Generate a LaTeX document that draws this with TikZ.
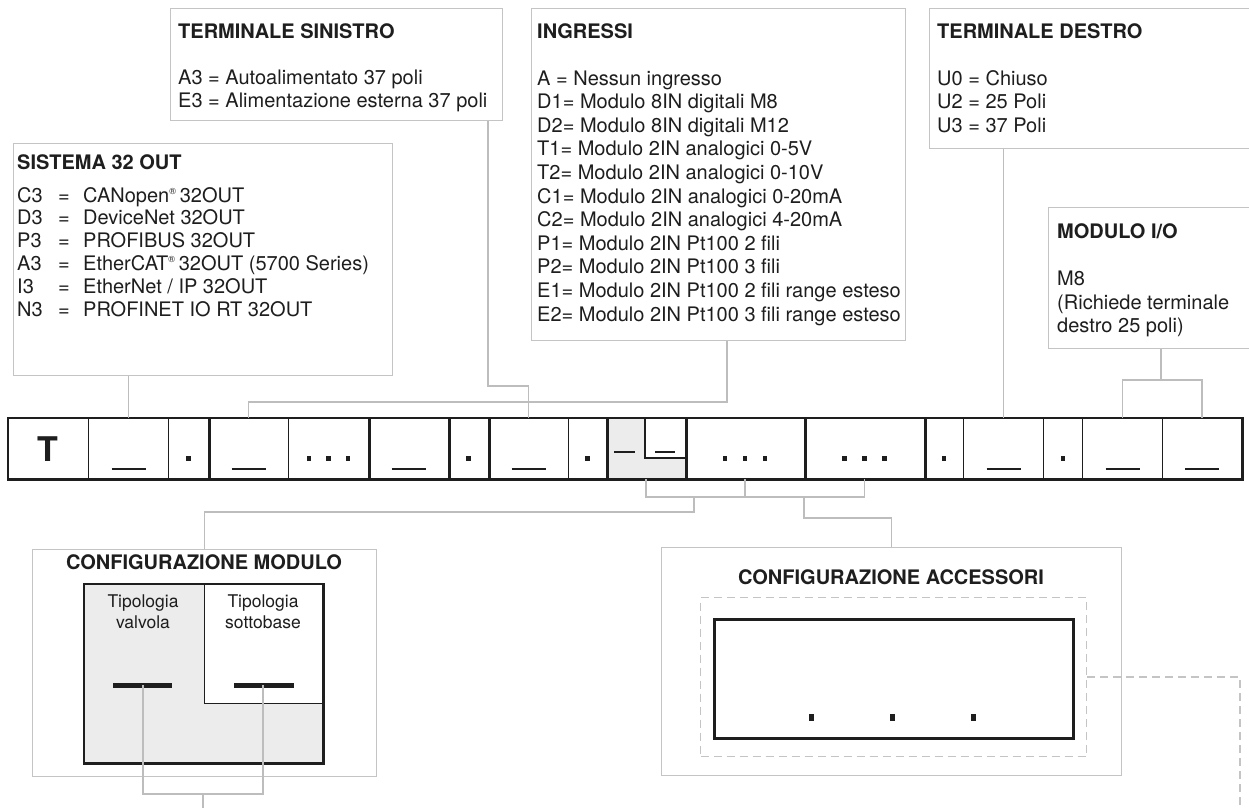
\documentclass[tikz,border=0pt]{standalone}
\usepackage{fontspec}
\setmainfont{TeX Gyre Heros}
\definecolor{boxgray}{HTML}{C4C4C4}
\definecolor{linegray}{HTML}{BDBDBD}
\definecolor{ink}{HTML}{1E1E1E}
\definecolor{cellgray}{HTML}{ECECEC}
\newcommand\bodyf{\fontsize{20}{23.5}\selectfont}
\newcommand\smallf{\fontsize{17.5}{21}\selectfont}
\newcommand\regmark{\textsuperscript{\fontsize{9}{9}\selectfont\textregistered}}
\tikzset{
  box/.style={draw=boxgray, line width=1.3pt, inner sep=0pt, anchor=north west, fill=white},
  conn/.style={draw=linegray, line width=1.3pt},
  txt/.style={anchor=base west, inner sep=0pt, text=ink, font=\bodyf},
  ttl/.style={anchor=base west, inner sep=0pt, text=ink, font=\bodyf\bfseries},
  ctl/.style={anchor=base, inner sep=0pt, text=ink, font=\bodyf\bfseries},
  stx/.style={anchor=base, inner sep=0pt, text=ink, font=\smallf},
  cell/.style={draw=ink, line width=1.2pt, inner sep=0pt, minimum height=60pt, anchor=north west},
  sq/.style={fill=ink, inner sep=0pt, minimum width=4.5pt, minimum height=5pt},
  uscore/.style={draw=ink, line width=2.5pt},
  thickdiv/.style={draw=ink, line width=2.6pt}
}
\begin{document}
\begin{tikzpicture}[x=1pt,y=-1pt]
\useasboundingbox (0,0) rectangle (1249,807);
\clip (0,0) rectangle (1249,807);
\fill[white] (0,0) rectangle (1249,807);

% ---------- top boxes ----------
\node[box, minimum width=379pt, minimum height=232pt] (sis) at (13,143) {};
\node[box, minimum width=332pt, minimum height=112pt] (sin) at (170,8) {};
\node[box, minimum width=374pt, minimum height=332pt] (ing) at (531,8) {};
\node[box, minimum width=340pt, minimum height=140pt] (des) at (929,8) {};
\node[box, minimum width=230pt, minimum height=141pt] (mio) at (1048,207) {};

% SISTEMA 32 OUT
\node[ttl] (sisT) at (17,169) {SISTEMA 32 OUT};
\foreach \c/\d [count=\i] in {C3/{CANopen\regmark\,32OUT},
    D3/{DeviceNet 32OUT}, P3/{PROFIBUS 32OUT},
    A3/{EtherCAT\regmark\,32OUT (5700 Series)},
    I3/{EtherNet / IP 32OUT}, N3/{PROFINET IO RT 32OUT}}{
  \node[txt] (sisc\i) at (17,{202+22.8*(\i-1)}) {\c};
  \node[txt] (sise\i) at (58,{202+22.8*(\i-1)}) {=};
  \node[txt] (sisd\i) at (83,{202+22.8*(\i-1)}) {\d};
}

% TERMINALE SINISTRO
\node[ttl] (sinT) at (178,38) {TERMINALE SINISTRO};
\node[txt] (sin1) at (178,84) {A3 = Autoalimentato 37 poli};
\node[txt] (sin2) at (178,107.5) {E3 = Alimentazione esterna 37 poli};

% INGRESSI
\node[ttl] (ingT) at (537,38) {INGRESSI};
\foreach \t [count=\i] in {A = Nessun ingresso, D1= Modulo 8IN digitali M8,
   D2= Modulo 8IN digitali M12, T1= Modulo 2IN analogici 0-5V,
   T2= Modulo 2IN analogici 0-10V, C1= Modulo 2IN analogici 0-20mA,
   C2= Modulo 2IN analogici 4-20mA, P1= Modulo 2IN Pt100 2 fili,
   P2= Modulo 2IN Pt100 3 fili, E1= Modulo 2IN Pt100 2 fili range esteso,
   E2= Modulo 2IN Pt100 3 fili range esteso}{
  \node[txt] (ing\i) at (537,{85+23.6*(\i-1)}) {\t};
}

% TERMINALE DESTRO
\node[ttl] (desT) at (937,38) {TERMINALE DESTRO};
\node[txt] (des1) at (937,85) {U0 = Chiuso};
\node[txt] (des2) at (937,108.5) {U2 = 25 Poli};
\node[txt] (des3) at (937,132) {U3 = 37 Poli};

% MODULO I/O
\node[ttl] (mioT) at (1057,238) {MODULO I/O};
\node[txt] (mio1) at (1057,285) {M8};
\node[txt] (mio2) at (1057,309) {(Richiede terminale};
\node[txt] (mio3) at (1057,332) {destro 25 poli)};

% ---------- code bar ----------
\node[cell, minimum width=80pt] (c1) at (8,418) {};
\node[cell, minimum width=80pt] (c2) at (88,418) {};
\node[cell, minimum width=40pt] (c3) at (168,418) {};
\node[cell, minimum width=80pt] (c4) at (208,418) {};
\node[cell, minimum width=80pt] (c5) at (288,418) {};
\node[cell, minimum width=80pt] (c6) at (368,418) {};
\node[cell, minimum width=40pt] (c7) at (448,418) {};
\node[cell, minimum width=80pt] (c8) at (488,418) {};
\node[cell, minimum width=38pt] (c9) at (568,418) {};
\node[cell, minimum width=79pt, fill=cellgray] (c10) at (606,418) {};
\node[cell, minimum width=119pt] (c11) at (685,418) {};
\node[cell, minimum width=120pt] (c12) at (804,418) {};
\node[cell, minimum width=39pt] (c13) at (924,418) {};
\node[cell, minimum width=80pt] (c14) at (963,418) {};
\node[cell, minimum width=39pt] (c15) at (1043,418) {};
\node[cell, minimum width=80pt] (c16) at (1082,418) {};
\node[cell, minimum width=79pt] (c17) at (1162,418) {};

% grey cell detail
\fill[white] (645,418) rectangle (685,458);
\draw[ink, line width=1.2pt] (645,418) -- (645,458) -- (685,458);
\draw[ink, line width=2pt] (614,452) -- (635,452);
\draw[ink, line width=2pt] (655,452) -- (675,452);

% thick dividers and frame
\foreach \n in {c3,c5,c6,c7,c9,c10,c11,c12}{
  \draw[thickdiv] (\n.north east) -- (\n.south east);
}
\draw[thickdiv] (c1.north west) rectangle (c17.south east);

% letters, underscores, dots
\node[anchor=base, inner sep=0pt, text=ink, font=\fontsize{34}{34}\selectfont\bfseries] (tT) at (48,461) {T};
\foreach \n in {c2,c4,c6,c8,c14,c16,c17}{
  \draw[uscore] ([xshift=-17pt,yshift=10pt]\n.south) -- ([xshift=17pt,yshift=10pt]\n.south);
}
\foreach \n in {c3,c7,c9,c13,c15}{
  \node[sq] (\n d) at ([yshift=-10pt]\n.center) {};
}
\node[sq] (c5a) at ([xshift=-19.5pt,yshift=-10pt]c5.center) {};
\node[sq] (c5b) at ([yshift=-10pt]c5.center) {};
\node[sq] (c5c) at ([xshift=19.5pt,yshift=-10pt]c5.center) {};
\node[sq] (c11a) at ([xshift=-20pt,yshift=-10pt]c11.center) {};
\node[sq] (c11b) at ([yshift=-10pt]c11.center) {};
\node[sq] (c11c) at ([xshift=20pt,yshift=-10pt]c11.center) {};
\node[sq] (c12a) at ([xshift=-20pt,yshift=-10pt]c12.center) {};
\node[sq] (c12b) at ([yshift=-10pt]c12.center) {};
\node[sq] (c12c) at ([xshift=20pt,yshift=-10pt]c12.center) {};

% ---------- connectors above the bar ----------
\coordinate (sinj) at (488,386);
\coordinate (ingj) at (727,402);
\coordinate (mioj) at (1161,380);
\draw[conn] (sis.south -| c2.north) -- (c2.north);
\draw[conn] (sin.south -| sinj) -- (sinj) -- (sinj -| c8.north) -- (c8.north);
\draw[conn] (ing.south -| ingj) -- (ingj) -- (ingj -| c4.north) -- (c4.north);
\draw[conn] (des.south -| c14.north) -- (c14.north);
\draw[conn] (mio.south -| mioj) -- (mioj);
\draw[conn] (c16.north) -- (c16.north |- mioj) -- (c17.north |- mioj) -- (c17.north);

% ---------- lower boxes ----------
\node[box, minimum width=344pt, minimum height=227pt] (cmod) at (32,549) {};
\node[box, minimum width=460pt, minimum height=228pt] (cacc) at (661,547) {};

\node[ctl] (cmodT) at (204,569) {CONFIGURAZIONE MODULO};
\node[ctl] (caccT) at (891,584) {CONFIGURAZIONE ACCESSORI};

% configurazione modulo inner
\node[anchor=north west, inner sep=0pt, fill=cellgray, minimum width=239pt, minimum height=179pt] (cin) at (84,584) {};
\node[anchor=north west, inner sep=0pt, fill=white, draw=ink, line width=1.2pt, minimum width=119pt, minimum height=119pt] (csub) at (204,584) {};
\draw[ink, line width=2.6pt] (cin.north west) rectangle (cin.south east);
\node[stx] (tv1) at (143,607) {Tipologia};
\node[stx] (tv2) at (143,628) {valvola};
\node[stx] (ts1) at (263,607) {Tipologia};
\node[stx] (ts2) at (263,628) {sottobase};
\draw[ink, line width=5pt] (113,685) -- (172,685);
\draw[ink, line width=5pt] (234,685) -- (294,685);
\coordinate (vb) at (143,685);
\coordinate (sb) at (263,685);
\coordinate (mj) at (203,794);
\draw[conn] (vb) -- (vb |- mj) -- (sb |- mj) -- (sb);
\draw[conn] (mj) -- (203,810);

% configurazione accessori inner
\node[anchor=north west, inner sep=0pt, draw=boxgray, line width=1.3pt, dash pattern=on 8pt off 5pt, minimum width=386pt, minimum height=159pt] (dbox) at (700,597) {};
\node[anchor=north west, inner sep=0pt, draw=ink, line width=2.6pt, minimum width=359pt, minimum height=119pt] (ain) at (713,618) {};
\node[sq, minimum width=5pt, minimum height=7pt] (ad1) at (811,717) {};
\node[sq, minimum width=5pt, minimum height=7pt] (ad2) at (892,717) {};
\node[sq, minimum width=5pt, minimum height=7pt] (ad3) at (973,717) {};
\coordinate (dj) at (1240,677);
\draw[draw=boxgray, line width=1.3pt, dash pattern=on 8pt off 5pt] (dbox.east |- dj) -- (dj) -- (1240,810);

% ---------- connectors below the bar ----------
\coordinate (bj) at (0,497);
\coordinate (lj) at (694,512);
\coordinate (rj) at (804,518);
\draw[conn] (c10.south) -- (c10.south |- bj) -- (c12.south |- bj) -- (c12.south);
\draw[conn] (c11.south) -- (c11.south |- bj);
\draw[conn] (lj |- bj) -- (lj) -- (lj -| cmod.north) -- (cmod.north);
\draw[conn] (rj |- bj) -- (rj) -- (rj -| cacc.north) -- (cacc.north);
\end{tikzpicture}
\end{document}
